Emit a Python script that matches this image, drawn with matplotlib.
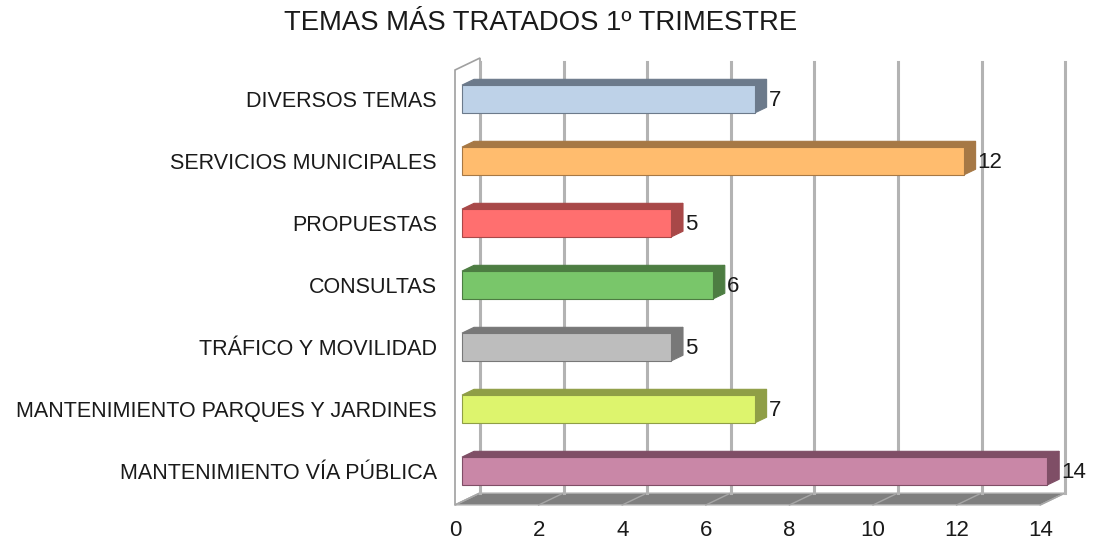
import matplotlib
matplotlib.use("Agg")
import matplotlib.pyplot as plt
from matplotlib.patches import Polygon

plt.rcParams['font.family'] = ['Liberation Sans', 'DejaVu Sans']

# Data
temas = ['DIVERSOS TEMAS', 'SERVICIOS MUNICIPALES', 'PROPUESTAS', 'CONSULTAS',
         'TRÁFICO Y MOVILIDAD', 'MANTENIMIENTO PARQUES Y JARDINES',
         'MANTENIMIENTO VÍA PÚBLICA']
valores = [7, 12, 5, 6, 5, 7, 14]
colores = ['#bed2e8', '#ffbc6e', '#ff6f6f', '#79c66a', '#bdbdbd', '#ddf46d', '#c987a7']
oscuros = ['#6c7a8b', '#a67845', '#a84848', '#4d7d42', '#787878', '#8f9e46', '#7f4e66']
xticks = [0, 2, 4, 6, 8, 10, 12, 14]

# pixel geometry of the pseudo 3d view
W, H = 1093, 546
pxu = 41.8           # px per unit
x0 = 455             # front plane origin
y0 = 102.4           # first category centre on front plane
dy_cat = 62.0
ddx = 25 / pxu       # depth vector (data units)
ddy = -12 / dy_cat

def P(v, i, d):
    return (v + ddx * d, i + ddy * d)

fig = plt.figure(figsize=(W / 100, H / 100), dpi=100)
ax = fig.add_axes([0, 0, 1, 1])
ax.set_xlim(-x0 / pxu, (W - x0) / pxu)
ax.set_ylim((H - y0) / dy_cat, -y0 / dy_cat)
ax.axis('off')

itop = (70 - y0) / dy_cat
ibot = (505 - y0) / dy_cat
vmax = 14
fs = 15.5

# side wall
ax.add_patch(Polygon([P(0, itop, 0), P(0, itop, 1), P(0, ibot, 1), P(0, ibot, 0)],
                     closed=True, facecolor='white', edgecolor='#a0a0a0', lw=1.2, zorder=1))
# floor
ax.add_patch(Polygon([P(0, ibot, 0), P(vmax, ibot, 0), P(vmax, ibot, 1), P(0, ibot, 1)],
                     closed=True, facecolor='#7f7f7f', edgecolor='#bdbdbd', lw=1, zorder=1))
for v in xticks:
    a, b = P(v, ibot, 0), P(v, ibot, 1)
    ax.plot([a[0], b[0]], [a[1], b[1]], color='#a6a6a6', lw=1, zorder=2)
    # back wall gridlines
    a, b = P(v, itop + 0.06, 1), P(v, ibot, 1)
    ax.plot([a[0], b[0]], [a[1], b[1]], color='#b3b3b3', lw=2.2, zorder=2)
    ax.text(v, (531 - y0) / dy_cat, str(v), ha='center', va='center', fontsize=16, color='#1a1a1a')

# bars
h = 0.45
d0, d1 = 0.28, 0.76
for i, (t, v, c, k) in enumerate(zip(temas, valores, colores, oscuros)):
    top, bot = i - h / 2, i + h / 2
    ax.add_patch(Polygon([P(0, top, d0), P(v, top, d0), P(v, top, d1), P(0, top, d1)],
                         closed=True, facecolor=k, edgecolor=k, lw=0.8, zorder=3))
    ax.add_patch(Polygon([P(v, top, d0), P(v, bot, d0), P(v, bot, d1), P(v, top, d1)],
                         closed=True, facecolor=k, edgecolor=k, lw=0.8, zorder=3))
    ax.add_patch(Polygon([P(0, top, d0), P(v, top, d0), P(v, bot, d0), P(0, bot, d0)],
                         closed=True, facecolor=c, edgecolor=k, lw=0.8, zorder=4))
    lx, ly = P(v, i, d1)
    ax.text(lx + 2 / pxu, i + ddy * d0 + 1.5 / dy_cat, str(v), ha='left', va='center',
            fontsize=16, color='#1a1a1a', zorder=5)
    ax.text(-18 / pxu, i + ddy * d0 + 2.5 / dy_cat, t, ha='right', va='center', fontsize=fs,
            color='#1a1a1a', zorder=5)

ax.text((541 - x0) / pxu, (23 - y0) / dy_cat, 'TEMAS MÁS TRATADOS 1º TRIMESTRE',
        ha='center', va='center', fontsize=19.8, color='#1a1a1a')

fig.savefig('out.png', dpi=100)
